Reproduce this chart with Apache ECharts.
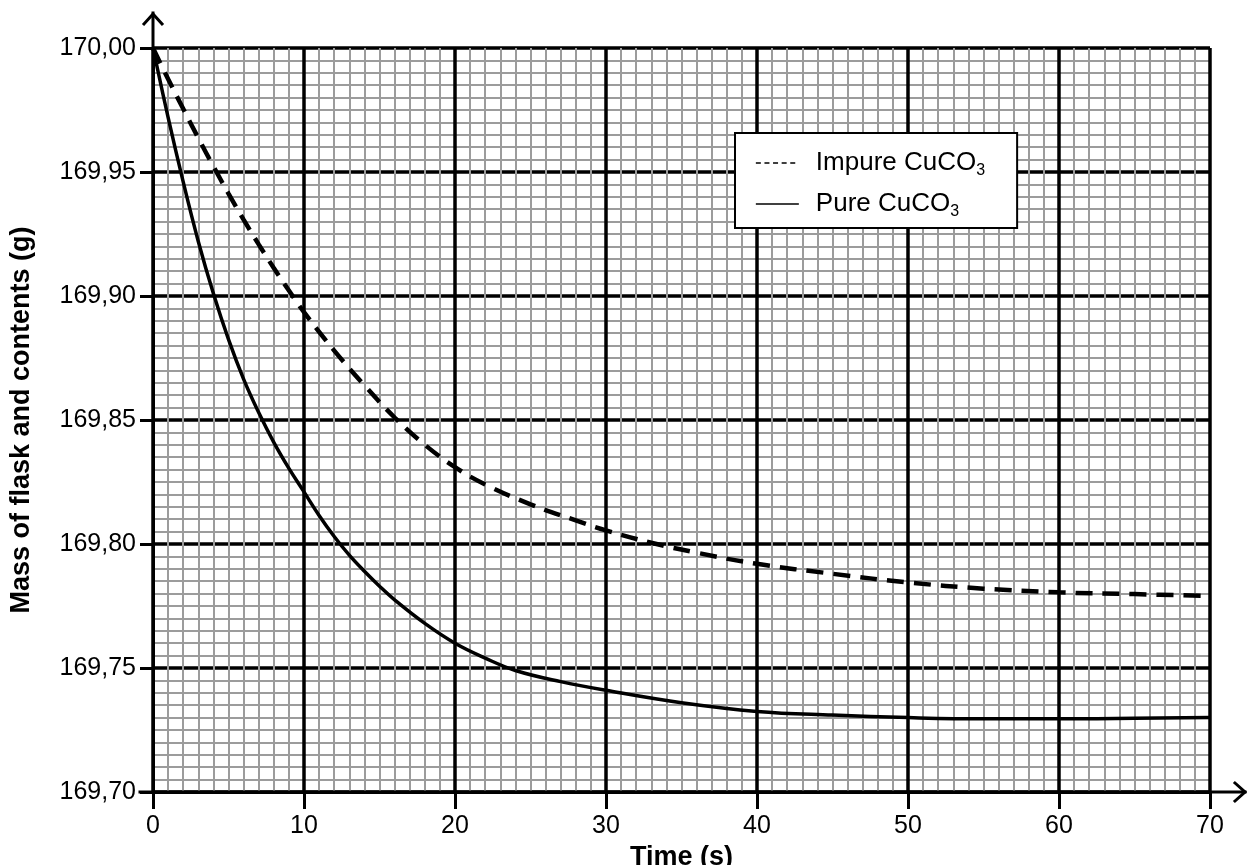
<!DOCTYPE html>
<html>
<head>
<meta charset="utf-8">
<script src="https://cdn.jsdelivr.net/npm/echarts@6/dist/echarts.min.js"></script>
<style>
html,body{margin:0;padding:0;background:#ffffff;}
#c{width:1247px;height:865px;}
</style>
</head>
<body>
<div id="c"></div>
<script>
// ---- data ----
const xTickLabels = ['0','10','20','30','40','50','60','70'];
const yTickLabels = ['169,70','169,75','169,80','169,85','169,90','169,95','170,00'];
const seriesNames = ['Impure CuCO3','Pure CuCO3'];

const impureTime = [0,1,2,3,4,5,6,7,8,9,10,12,14,16,18,20,22,25,28,30,33,36,40,45,50,55,60,65,70];
const impureMass = [170.000,169.9875,169.9755,169.9637,169.9523,169.9413,169.9308,169.9208,169.9113,169.9022,169.8935,169.878,169.864,169.851,169.840,169.831,169.824,169.816,169.8095,169.8055,169.8005,169.7965,169.792,169.788,169.7845,169.782,169.7805,169.7798,169.779];

const pureTime = [0,1,2,3,4,5,6,7,8,9,10,11,12,13,14,15,16,18,20,22,24,27,30,35,40,45,50,55,60,65,70];
const pureMass = [170.000,169.972,169.946,169.922,169.901,169.8825,169.8665,169.853,169.841,169.8305,169.821,169.8115,169.803,169.7955,169.789,169.783,169.7775,169.768,169.760,169.754,169.749,169.7445,169.741,169.736,169.7325,169.731,169.730,169.7295,169.7295,169.7297,169.730];

// ---- chart ----
const FONT = 'Liberation Sans';
const chart = echarts.init(document.getElementById('c'), null, {renderer:'canvas'});

const yMin = 169.70, yMax = 170.00, yStep = 0.05;
const xMin = 0, xMax = 70, xStep = 10;

function pairs(xs, ys){ return xs.map((x,i)=>[x, ys[i]]); }

const legendRich = {
  a: {fontFamily: FONT, fontSize: 26, color: '#000', padding:[0,0,0,12]},
  s: {fontFamily: FONT, fontSize: 16, color: '#000', verticalAlign: 'bottom', padding:[0,0,-3,0]}
};

chart.setOption({
  animation: false,
  backgroundColor: '#ffffff',
  textStyle: {fontFamily: FONT},
  grid: {left: 153, right: 37, top: 48, bottom: 73, outerBoundsMode: 'none', containLabel: false},
  legend: {
    orient: 'vertical',
    left: 735, top: 133,
    padding: [17, 32, 8, 20],
    itemGap: 12,
    itemWidth: 43, itemHeight: 16,
    backgroundColor: '#ffffff',
    borderColor: '#000000', borderWidth: 2, borderRadius: 0,
    itemStyle: {opacity: 0},
    data: [
      {name: seriesNames[0], itemStyle: {opacity: 0}, lineStyle: {type: [5, 3.6], width: 1.7, color:'#000'}},
      {name: seriesNames[1], itemStyle: {opacity: 0}, lineStyle: {type: 'solid', width: 1.7, color:'#000'}}
    ],
    formatter: function(name){
      return '{a|' + name.replace(/3$/, '') + '}{s|3}';
    },
    textStyle: {rich: legendRich}
  },
  xAxis: {
    type: 'value', min: xMin, max: xMax, interval: xStep,
    name: 'Time (s)', nameLocation: 'middle', nameGap: 47,
    nameTextStyle: {fontFamily: FONT, fontSize: 27, fontWeight: 'bold', color:'#000'},
    axisLine: {show: true, lineStyle: {color:'#000', width: 3}},
    axisTick: {show: true, length: 17, inside: false, lineStyle: {color:'#000', width: 3}},
    axisLabel: {fontFamily: FONT, fontSize: 25, color:'#000', margin: 22,
      formatter: function(v){ return xTickLabels[Math.round((v - xMin)/xStep)]; }},
    splitLine: {show: true, lineStyle: {color:'#000', width: 3.5}},
    minorTick: {show: false, splitNumber: 10},
    minorSplitLine: {show: true, lineStyle: {color:'#9c9c9c', width: 2}}
  },
  yAxis: {
    type: 'value', min: yMin, max: yMax, interval: yStep,
    name: 'Mass of flask and contents (g)', nameLocation: 'middle', nameGap: 118,
    nameTextStyle: {fontFamily: FONT, fontSize: 27, fontWeight: 'bold', color:'#000'},
    axisLine: {show: true, lineStyle: {color:'#000', width: 3}},
    axisTick: {show: true, length: 13, lineStyle: {color:'#000', width: 3}},
    axisLabel: {fontFamily: FONT, fontSize: 25, color:'#000', margin: 17,
      formatter: function(v){ return yTickLabels[Math.round((v - yMin)/yStep)]; }},
    splitLine: {show: true, lineStyle: {color:'#000', width: 3.5}},
    minorTick: {show: false, splitNumber: 10},
    minorSplitLine: {show: true, lineStyle: {color:'#9c9c9c', width: 2}}
  },
  series: [
    {
      name: seriesNames[0], type: 'line', data: pairs(impureTime, impureMass),
      smooth: 0.4, symbol: 'none', z: 5,
      lineStyle: {color:'#000', width: 4.5, type: [17, 10]}
    },
    {
      name: seriesNames[1], type: 'line', data: pairs(pureTime, pureMass),
      smooth: 0.4, symbol: 'none', z: 5,
      lineStyle: {color:'#000', width: 3.5, type: 'solid'}
    }
  ]
});

// axis arrows (decoration beyond the plot box), placed from the axis scales
const tl = chart.convertToPixel({gridIndex: 0}, [xMin, yMax]);
const br = chart.convertToPixel({gridIndex: 0}, [xMax, yMin]);
const ax = tl[0], ay = br[1];
const arrowStyle = {stroke:'#000', lineWidth: 3, fill: null, lineCap:'square'};
chart.setOption({
  graphic: [
    {type:'line', shape:{x1: ax, y1: tl[1], x2: ax, y2: tl[1]-35}, style: arrowStyle, z: 10},
    {type:'polyline', shape:{points:[[ax-9, tl[1]-24],[ax, tl[1]-34],[ax+9, tl[1]-24]]}, style: arrowStyle, z: 10},
    {type:'line', shape:{x1: ax-13, y1: ay, x2: br[0]+35, y2: ay}, style: arrowStyle, z: 10},
    {type:'polyline', shape:{points:[[br[0]+25, ay-9],[br[0]+35, ay],[br[0]+25, ay+9]]}, style: arrowStyle, z: 10}
  ]
});
</script>
</body>
</html>
